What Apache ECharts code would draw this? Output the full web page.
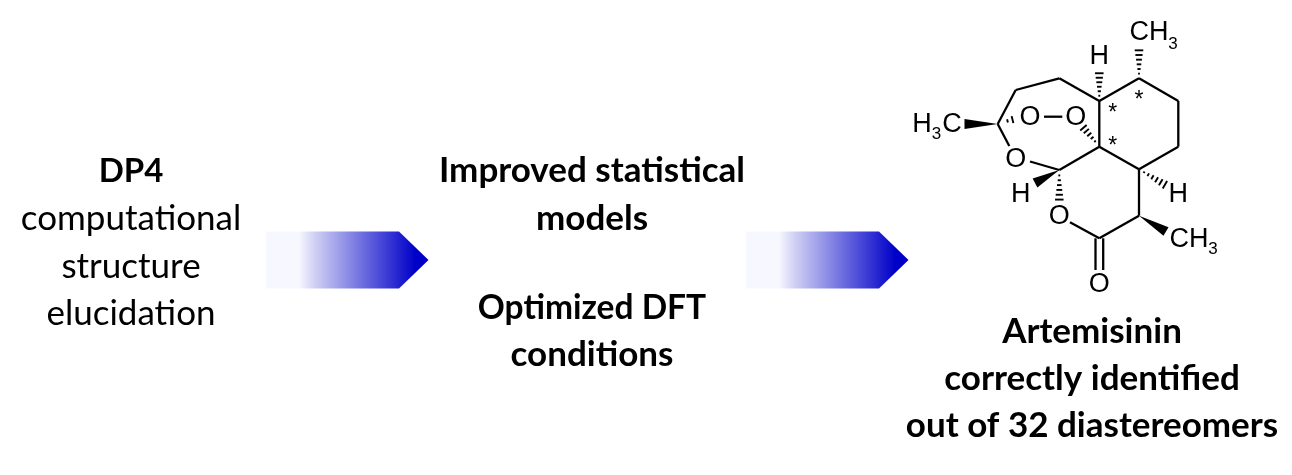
<!DOCTYPE html>
<html><head><meta charset="utf-8">
<style>html,body{margin:0;padding:0;background:#fff}#c{width:1292px;height:475px}</style>
<script src="https://cdn.jsdelivr.net/npm/echarts@6/dist/echarts.min.js"></script>
</head><body><div id="c"></div>
<script>
// caption lines: text, centre x, centre y, bold flag
const captionLines = [
  ['DP4',131,171,1],['computational',131,219,0],['structure',131,267,0],['elucidation',131,314,0],
  ['Improved statistical',592,171,1],['models',592,219,1],['Optimized DFT',592,308,1],['conditions',592,355,1],
  ['Artemisinin',1092,332,1],['correctly identified',1092,379,1],['out of 32 diastereomers',1092,426,1]
];
// arrows: left, right, shoulder, top, bottom
const arrows = [[266,428.5,399,231.5,288.5],[746,908.5,879,231.5,288.5]];
// plain bonds: x1,y1,x2,y2
const bonds = [
  [1139,78.3,1178.3,101],[1178.3,101,1178.3,146.7],[1178.3,146.7,1139,169.3],[1139,169.3,1099.3,146.7],
  [1099.3,146.7,1099.3,101],[1099.3,101,1139,78.3],[1099.3,101,1059.3,78.3],[1059.3,78.3,1015.7,90],
  [1015.7,90,997.7,124],[997.7,124,1009.3,146],[1030,161.5,1059.3,170],[1059.3,170,1099.3,146.7],
  [1070,222.3,1099.3,238.3],[1099.3,238.3,1139,215.7],[1139,215.7,1139,169.3],
  [1095.5,238.3,1095.5,270],[1103.2,238.3,1103.2,270],[1044,116.7,1062.3,116.7]
];
// solid wedges: tip x,y, wide end x,y
const wedges = [[997.7,124,964.5,124],[1059.3,170,1035,183],[1139,215.7,1166,231.5]];
// hashed wedges: narrow end x,y, wide end x,y
const hashes = [
  [1139,76,1139,48],[1099.3,98,1099.3,71],[1142,171,1167,186],
  [1096.5,143,1082,126],[1059.3,173,1059.3,202],[1005,121.5,1015,119]
];
// structure labels: text, x, y, kind
const atomLabels = [
  ['CH',1149,33,'a'],['3',1173,44,'s'],['H',1099.3,56.7,'a'],
  ['H',922,125,'a'],['3',936.5,134,'s'],['C',952,125,'a'],
  ['O',1030,117.7,'a'],['O',1075.7,117.7,'a'],['O',1015.7,160,'a'],
  ['H',1020.7,194.3,'a'],['H',1178.3,194.3,'a'],['O',1059.3,216.7,'a'],
  ['CH',1189,240,'a'],['3',1213,249,'s'],['O',1099.3,285,'a'],
  ['*',1139,100.5,'m'],['*',1112.7,114,'m'],['*',1112.7,146.5,'m']
];
// caption lines whose capitals run wide in the substitute font
const narrowerLines = {'DP4':33, 'Optimized DFT':33.5};

const chart = echarts.init(document.getElementById('c'), null, {renderer:'canvas'});
const black = '#000';
const lineStyle = {stroke:black, lineWidth:2.3, lineCap:'butt', fill:null};

function bondItem(p, api){
  const a = api.coord([api.value(0),api.value(1)]), b = api.coord([api.value(2),api.value(3)]);
  return {type:'line', shape:{x1:a[0],y1:a[1],x2:b[0],y2:b[1]}, style:lineStyle};
}
function wedgeItem(p, api){
  const a = api.coord([api.value(0),api.value(1)]), b = api.coord([api.value(2),api.value(3)]);
  const dx=b[0]-a[0], dy=b[1]-a[1], L=Math.hypot(dx,dy), nx=-dy/L*5, ny=dx/L*5;
  return {type:'polygon', shape:{points:[a,[b[0]+nx,b[1]+ny],[b[0]-nx,b[1]-ny]]}, style:{fill:black}};
}
function hashItem(p, api){
  const a = api.coord([api.value(0),api.value(1)]), b = api.coord([api.value(2),api.value(3)]);
  const dx=b[0]-a[0], dy=b[1]-a[1], L=Math.hypot(dx,dy), ux=dx/L, uy=dy/L;
  const n = Math.max(2, Math.round(L/4.6)), kids=[];
  for(let i=0;i<n;i++){
    const t=(i+0.5)/n, h=0.6+t*4, cx=a[0]+dx*t, cy=a[1]+dy*t;
    kids.push({type:'line', shape:{x1:cx-uy*h,y1:cy+ux*h,x2:cx+uy*h,y2:cy-ux*h}, style:{stroke:black,lineWidth:1.9}});
  }
  return {type:'group', children:kids};
}
function arrowItem(p, api){
  const l=api.value(0), r=api.value(1), s=api.value(2), t=api.value(3), b=api.value(4), m=(t+b)/2;
  const pts=[[l,t],[s,t],[r,m],[s,b],[l,b]].map(q=>api.coord(q));
  return {type:'polygon', shape:{points:pts}, style:{fill:new echarts.graphic.LinearGradient(0,0,1,0,[
    {offset:0,color:'#f7f8ff'},{offset:0.2,color:'#f7f8ff'},{offset:0.3,color:'#d0d0f4'},{offset:0.92,color:'#0000c8'},{offset:1,color:'#0000c8'}])}};
}
function captionItem(p, api){
  const d = captionLines[p.dataIndex], c = api.coord([d[1],d[2]]);
  return {type:'text', x:c[0], y:c[1], style:{text:d[0], align:'center', verticalAlign:'middle', fill:black,
    font:(d[3]?'bold ':'')+(narrowerLines[d[0]]||35)+'px Lato, "Open Sans", sans-serif'}};
}
const sizes = {a:'27px', s:'17px', m:'23px'};
function atomItem(p, api){
  const d = atomLabels[p.dataIndex], c = api.coord([d[1],d[2]]);
  return {type:'text', x:c[0], y:c[1], style:{text:d[0], align:'center', verticalAlign:'middle', fill:black,
    font:sizes[d[3]]+' "Liberation Sans", Arial, sans-serif'}};
}
const cs = (data, renderItem, z) => ({type:'custom', coordinateSystem:'cartesian2d', data, renderItem, silent:true, animation:false, clip:false, z, encode:{x:0,y:1}});
chart.setOption({
  animation:false,
  backgroundColor:'#fff',
  grid:{left:0,right:0,top:0,bottom:0},
  xAxis:{type:'value',min:0,max:1292,show:false},
  yAxis:{type:'value',min:0,max:475,inverse:true,show:false},
  series:[
    cs(arrows, arrowItem, 1),
    cs(bonds, bondItem, 2),
    cs(wedges, wedgeItem, 2),
    cs(hashes, hashItem, 2),
    cs(atomLabels.map(d=>[d[1],d[2]]), atomItem, 3),
    cs(captionLines.map(d=>[d[1],d[2]]), captionItem, 3)
  ]
});
</script></body></html>
